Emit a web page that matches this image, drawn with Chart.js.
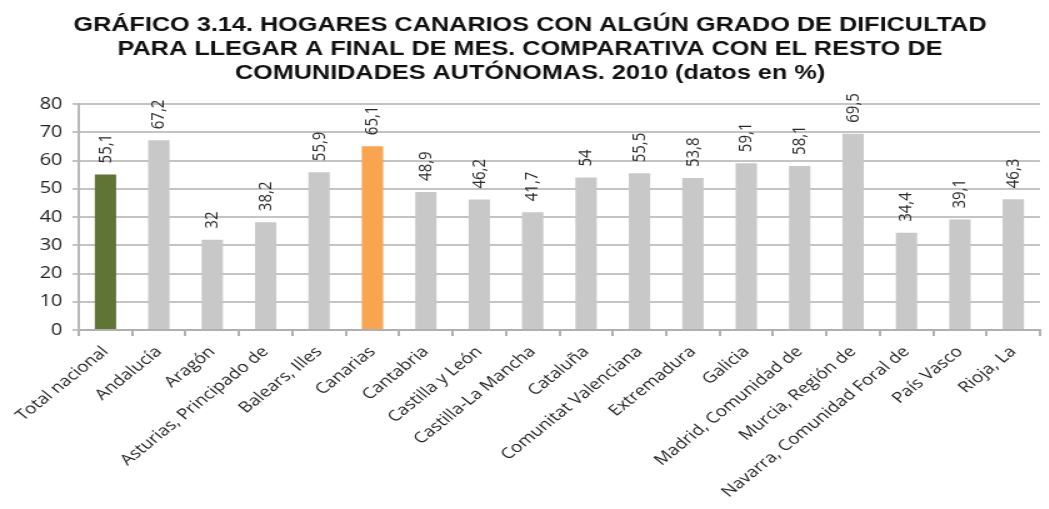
<!DOCTYPE html>
<html>
<head>
<meta charset="utf-8">
<script src="https://cdn.jsdelivr.net/npm/chart.js@4"></script>
<style>
  html, body { margin: 0; padding: 0; background: #fff; overflow: hidden; }
  /* the source picture is stretched sideways, so draw narrow and widen it */
  #wrap { width: 839px; height: 509px; transform: scaleX(1.25); transform-origin: 0 0; }
</style>
</head>
<body>
<div id="wrap"><canvas id="chart"></canvas></div>
<script>
const categories = ["Total nacional", "Andalucía", "Aragón", "Asturias, Principado de", "Balears, Illes", "Canarias", "Cantabria", "Castilla y León", "Castilla-La Mancha", "Cataluña", "Comunitat Valenciana", "Extremadura", "Galicia", "Madrid, Comunidad de", "Murcia, Región de", "Navarra, Comunidad Foral de", "País Vasco", "Rioja, La"];
const values = [55.1, 67.2, 32, 38.2, 55.9, 65.1, 48.9, 46.2, 41.7, 54, 55.5, 53.8, 59.1, 58.1, 69.5, 34.4, 39.1, 46.3];
const yTicks = [0, 10, 20, 30, 40, 50, 60, 70, 80];
const titleLines = ["GRÁFICO 3.14. HOGARES CANARIOS CON ALGÚN GRADO DE DIFICULTAD", "PARA LLEGAR A FINAL DE MES. COMPARATIVA CON EL RESTO DE", "COMUNIDADES AUTÓNOMAS. 2010 (datos en %)"];

const barColors = categories.map(c => c === "Total nacional" ? "#607535" : c === "Canarias" ? "#f9a550" : "#c8c8c8");

// vertical value labels above each bar
const valueLabels = {
  id: "valueLabels",
  afterLayout(chart) {
    // title sits a little right of the page centre in the original
    chart.titleBlock.left += 8;
    chart.titleBlock.right += 8;
  },
  afterDatasetsDraw(chart) {
    const ctx = chart.ctx;
    const meta = chart.getDatasetMeta(0);
    ctx.save();
    ctx.font = "15px 'Open Sans'";
    ctx.fillStyle = "#2a2a2a";
    ctx.textAlign = "left";
    ctx.textBaseline = "middle";
    meta.data.forEach((bar, i) => {
      ctx.save();
      ctx.translate(bar.x, bar.y - 11);
      ctx.rotate(-Math.PI / 2);
      ctx.fillText(String(values[i]).replace(".", ","), 0, 0);
      ctx.restore();
    });
    ctx.restore();
  }
};

new Chart(document.getElementById("chart"), {
  type: "bar",
  data: {
    labels: categories,
    datasets: [{
      data: values,
      backgroundColor: barColors,
      barPercentage: 0.8,
      categoryPercentage: 0.5
    }]
  },
  options: {
    responsive: true,
    maintainAspectRatio: false,
    animation: false,
    layout: { padding: { left: 0, right: 7, top: 0, bottom: 0 } },
    plugins: {
      legend: { display: false },
      tooltip: { enabled: false },
      title: {
        display: true,
        text: titleLines,
        color: "#111",
        font: { family: "'Liberation Sans'", size: 20.2, weight: "bold", lineHeight: 1.19 },
        padding: { top: 13, bottom: 19 }
      }
    },
    scales: {
      x: {
        afterFit(axis) { axis.height = 179; },
        grid: { display: true, drawOnChartArea: false, color: "#b0b0b0", lineWidth: 2, tickLength: 6 },
        border: { color: "#b0b0b0", width: 2 },
        ticks: {
          autoSkip: false,
          maxRotation: 45,
          minRotation: 45,
          color: "#222",
          padding: 7,
          font: { family: "'Open Sans'", size: 15 }
        }
      },
      y: {
        min: 0,
        max: 80,
        afterFit(axis) { axis.width = 63; },
        afterBuildTicks(axis) { axis.ticks = yTicks.map(v => ({ value: v })); },
        grid: { color: "#c4c4c4", lineWidth: 2, tickLength: 5 },
        border: { color: "#b8b8b8", width: 2 },
        ticks: {
          color: "#222",
          font: { family: "'Open Sans'", size: 16 },
          padding: 8
        }
      }
    }
  },
  plugins: [valueLabels]
});
</script>
</body>
</html>
